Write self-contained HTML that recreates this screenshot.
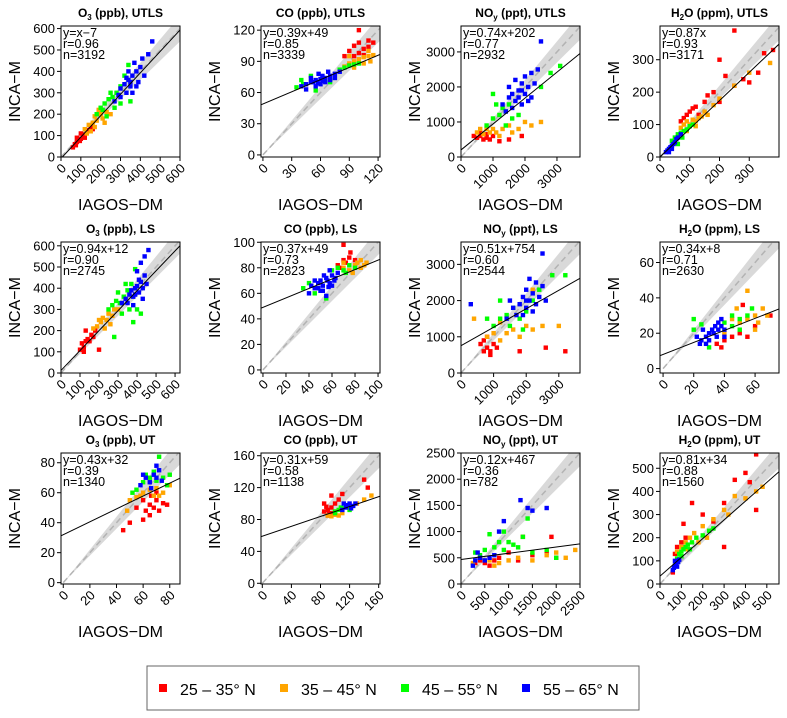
<!DOCTYPE html>
<html><head><meta charset="utf-8">
<style>
html,body{margin:0;padding:0;background:#fff;}
svg{display:block;font-family:"Liberation Sans",sans-serif;}
</style></head>
<body>
<svg id="fig" width="787" height="718" viewBox="0 0 787 718">
<g id="legend">
<rect x="147" y="666" width="492" height="44" fill="#fff" stroke="#666" stroke-width="1"/>
<g><rect x="159" y="684" width="8" height="8" fill="#ff0000"/><text x="180" y="695" font-size="16">25 – 35° N</text></g>
<g><rect x="280" y="684" width="8" height="8" fill="#ffa500"/><text x="301" y="695" font-size="16">35 – 45° N</text></g>
<g><rect x="401" y="684" width="8" height="8" fill="#00ff00"/><text x="422" y="695" font-size="16">45 – 55° N</text></g>
<g><rect x="522" y="684" width="8" height="8" fill="#0000ff"/><text x="543" y="695" font-size="16">55 – 65° N</text></g>
</g>
</svg>
<script>
// ---- data ----
const panelTitles = [["O","3","(ppb), UTLS"],["CO","","(ppb), UTLS"],["NO","y","(ppt), UTLS"],["H","2","O (ppm), UTLS"],
 ["O","3","(ppb), LS"],["CO","","(ppb), LS"],["NO","y","(ppt), LS"],["H","2","O (ppm), LS"],
 ["O","3","(ppb), UT"],["CO","","(ppb), UT"],["NO","y","(ppt), UT"],["H","2","O (ppm), UT"]];
const xLims = [[0,600],[-2,122],[0,3720],[0,400],[0,626],[-1.7,101.7],[0,3650],[-2,75.6],[-1.7,87.7],[-1.8,161.8],[0,2500],[0,557]];
const yLims = [[0,612],[-2,124],[0,3740],[0,404],[0,618],[-2.4,100.2],[0,3618],[-2.5,71.6],[-0.9,86.5],[-0.9,163.4],[0,2500],[0,566]];
const xTicks = [[0,100,200,300,400,500,600],[0,30,60,90,120],[0,1000,2000,3000],[0,100,200,300],
 [0,100,200,300,400,500,600],[0,20,40,60,80,100],[0,1000,2000,3000],[0,20,40,60],
 [0,20,40,60,80],[0,40,80,120,160],[0,500,1000,1500,2000,2500],[0,100,200,300,400,500]];
const yTicks = [[0,100,200,300,400,500,600],[0,30,60,90,120],[0,1000,2000,3000],[0,100,200,300],
 [0,100,200,300,400,500,600],[0,20,40,60,80,100],[0,1000,2000,3000],[0,20,40,60],
 [0,20,40,60,80],[0,40,80,120,160],[0,500,1000,1500,2000,2500],[0,100,200,300,400,500]];
const slopes = [1,0.39,0.74,0.87,0.94,0.37,0.51,0.34,0.43,0.31,0.12,0.81];
const intercepts = [-7,49,202,0,12,49,754,8,32,59,467,34];
const statLines = [["y=x−7","r=0.96","n=3192"],["y=0.39x+49","r=0.85","n=3339"],["y=0.74x+202","r=0.77","n=2932"],["y=0.87x","r=0.93","n=3171"],
 ["y=0.94x+12","r=0.90","n=2745"],["y=0.37x+49","r=0.73","n=2823"],["y=0.51x+754","r=0.60","n=2544"],["y=0.34x+8","r=0.71","n=2630"],
 ["y=0.43x+32","r=0.39","n=1340"],["y=0.31x+59","r=0.58","n=1138"],["y=0.12x+467","r=0.36","n=782"],["y=0.81x+34","r=0.88","n=1560"]];
const seriesColors = ["#ff0000","#ffa500","#00ff00","#0000ff"];
const seriesNames = ["lat-25-35","lat-35-45","lat-45-55","lat-55-65"];
// points per panel: [red, orange, green, blue]
const pts1 = [
 [[60,45],[70,60],[80,70],[90,80],[100,85],[110,100],[120,105],[130,120],[140,125],[80,90],[100,110],[120,90],[150,140],[160,130],[75,55],[95,75]],
 [[120,130],[140,150],[160,160],[170,190],[180,170],[200,200],[190,220],[210,180],[230,210],[150,120],[220,160],[170,140],[250,200],[130,110]],
 [[180,200],[200,230],[220,250],[240,270],[260,280],[280,300],[250,300],[300,330],[320,380],[230,190],[300,250],[340,430],[350,260],[270,230],[210,220]],
 [[270,260],[290,290],[300,320],[320,340],[340,360],[350,330],[360,380],[380,400],[400,420],[330,300],[370,440],[390,350],[410,460],[420,380],[440,480],[460,540],[360,300],[300,280],[340,400],[380,330],[350,350],[330,370]]];
const pts2 = [
 [[90,100],[95,105],[100,108],[105,102],[110,110],[100,98],[95,95],[110,104],[85,95],[100,120],[115,108],[105,96]],
 [[85,85],[90,88],[95,90],[100,92],[105,94],[110,95],[115,96],[95,84],[105,88],[110,100],[90,95],[112,90]],
 [[35,65],[40,72],[50,76],[80,82],[85,84],[90,86],[95,87],[100,88],[70,70],[55,62],[42,68]],
 [[40,66],[45,68],[50,70],[55,72],[60,73],[65,74],[70,76],[75,78],[80,80],[55,66],[60,68],[65,70],[50,74],[58,78],[70,72],[45,63],[62,76],[52,70],[68,80],[75,74],[62,71],[57,69]]];
const pts3 = [
 [[400,600],[500,550],[600,600],[700,500],[800,550],[900,500],[1000,600],[1200,450],[1500,500],[1900,600],[600,700],[800,650]],
 [[500,700],[700,650],[900,700],[1000,800],[1100,700],[1300,800],[1500,900],[1800,800],[2000,1000],[2500,1000],[800,800],[600,800],[1200,600],[1600,700],[2200,900]],
 [[800,900],[1000,1100],[1200,1200],[1300,1400],[1400,1300],[1500,1500],[1600,1100],[1100,1500],[1000,1800],[2500,2000],[2800,2400],[3100,2600],[1800,1200],[1400,900]],
 [[1300,1500],[1500,1700],[1600,1800],[1700,1600],[1800,1900],[1900,2100],[2000,1800],[2100,2000],[2200,1700],[2300,2100],[1500,2000],[1700,2200],[2000,2300],[2400,2500],[1900,1500],[1600,1400],[2200,2400],[2500,3300],[1800,1700],[1400,1300],[1900,1900],[2100,1600]]];
const pts4 = [
 [[70,110],[80,120],[90,130],[100,140],[110,150],[120,155],[130,130],[150,170],[180,200],[200,170],[220,250],[250,220],[280,240],[300,230],[330,260],[350,320],[380,330],[250,390],[200,300],[160,190]],
 [[70,90],[80,100],[90,110],[100,100],[110,115],[120,110],[130,120],[140,125],[150,140],[160,130],[180,160],[200,180],[250,220],[300,260],[370,290],[90,80],[120,95]],
 [[40,50],[50,60],[60,70],[70,75],[80,80],[90,85],[100,95],[60,40],[75,60],[110,100]],
 [[20,15],[25,20],[30,25],[35,30],[40,35],[45,40],[50,45],[55,55],[30,15],[40,25],[60,60],[70,70]]];
const pts5 = [
 [[100,110],[110,140],[120,120],[130,150],[140,160],[150,150],[160,180],[170,170],[180,200],[130,200],[200,110],[120,100]],
 [[170,210],[190,220],[210,240],[220,260],[240,250],[250,280],[270,270],[280,300],[230,210],[260,230],[300,300],[200,250]],
 [[250,300],[270,320],[290,340],[310,330],[330,360],[350,390],[340,420],[370,420],[320,280],[360,300],[400,300],[420,280],[380,240],[300,380],[390,490],[280,170]],
 [[320,330],[340,350],[360,370],[370,390],[380,360],[390,400],[400,410],[410,380],[420,430],[430,400],[440,460],[450,420],[400,480],[420,520],[440,550],[460,580],[380,320],[430,350],[350,330],[410,440],[390,370]]];
const pts6 = [
 [[65,82],[70,86],[75,88],[72,84],[80,86],[68,80],[76,92],[70,98]],
 [[70,80],[75,78],[80,82],[82,84],[85,80],[88,82],[90,84],[78,76],[85,86],[70,84]],
 [[35,64],[40,68],[60,78],[65,80],[70,78],[72,76],[75,82],[80,80],[45,60],[55,56]],
 [[40,60],[45,64],[48,68],[50,70],[52,66],[55,72],[58,68],[60,74],[62,70],[65,76],[50,62],[55,58],[45,70],[60,66],[53,74],[58,78],[48,64],[63,72],[42,66],[56,70],[52,62],[57,65]]];
const pts7 = [
 [[600,800],[700,900],[800,700],[900,600],[1000,800],[800,1000],[700,600],[900,500],[1100,700],[2600,700],[3200,600],[1800,600]],
 [[800,1000],[1000,1100],[1200,900],[1400,1100],[1600,1200],[1800,1000],[2000,1300],[2200,1200],[2500,1300],[3000,1300],[400,1500],[1200,1400],[2200,2300]],
 [[1000,1300],[1200,1500],[1400,1600],[1600,1800],[1800,1500],[2000,1700],[2200,2000],[2400,2300],[2800,2700],[3200,2700],[1200,2000],[1500,1300],[1900,1200],[800,1500]],
 [[1600,1800],[1800,1900],[1900,2100],[2000,1800],[2100,2000],[2200,2200],[2300,1900],[2400,2100],[2500,2400],[2200,1700],[1700,1600],[2000,2300],[2300,2500],[1500,2000],[2600,2000],[1900,1600],[2100,2600],[2500,3300],[300,1900],[1400,1500],[2000,2000]]];
const pts8 = [
 [[35,14],[40,16],[45,18],[50,20],[55,18],[38,12],[60,24],[70,30],[52,36]],
 [[40,20],[45,28],[50,26],[55,28],[60,30],[62,26],[65,34],[68,30],[55,44],[60,22],[48,34]],
 [[20,22],[25,25],[40,26],[45,24],[50,28],[55,30],[58,34],[45,30],[20,28],[30,12],[50,22]],
 [[22,18],[25,16],[28,18],[30,20],[32,22],[34,24],[36,26],[38,24],[30,16],[35,18],[40,22],[26,22],[38,28],[33,20],[28,14],[24,14],[36,22],[40,18]]];
const pts9 = [
 [[55,50],[60,55],[62,48],[65,52],[68,50],[70,55],[72,48],[75,53],[65,45],[60,42],[50,40],[45,35],[70,60],[78,52],[66,58]],
 [[50,55],[55,57],[60,60],[65,62],[70,63],[75,60],[80,65],[58,58],[68,58],[48,48],[72,58]],
 [[55,62],[60,67],[65,70],[70,68],[75,70],[80,72],[62,72],[68,74],[78,65],[72,84],[52,60]],
 [[58,65],[62,70],[65,67],[68,72],[70,70],[72,75],[60,72],[66,63],[74,68],[70,78]]];
const pts10 = [
 [[85,90],[90,92],[88,96],[92,88],[95,95],[100,100],[95,110],[105,105],[110,112],[90,85],[140,130],[145,120],[98,88],[85,100]],
 [[90,85],[95,84],[100,86],[105,85],[110,88],[130,100],[140,105],[150,110],[100,90]],
 [[100,90],[105,92],[110,94],[115,96],[100,88],[108,95],[120,92]],
 [[110,92],[115,95],[118,98],[120,100],[122,94],[125,97],[112,100],[128,100]]];
const pts11 = [
 [[300,400],[400,450],[500,400],[600,350],[700,450],[800,500],[1000,600],[1200,450],[1500,550],[1800,600],[2000,500],[1900,900],[1300,900],[400,500]],
 [[250,400],[400,500],[600,450],[800,400],[1000,450],[1200,500],[1500,450],[1800,550],[2000,600],[2200,500],[2400,650],[700,350]],
 [[300,600],[500,650],[700,700],[900,650],[1000,800],[1200,700],[1500,600],[1800,650],[2000,500],[600,950],[900,1000],[1300,900],[1400,1250],[1100,750],[400,550],[800,800]],
 [[250,350],[300,450],[400,500],[500,450],[600,500],[700,550],[800,1000],[1250,1600],[1400,1450],[1500,1400],[1800,1450],[900,1200],[350,600]]];
const pts12 = [
 [[70,130],[80,160],[100,180],[120,200],[110,260],[150,350],[200,300],[250,270],[300,350],[350,450],[420,440],[450,320],[400,480],[450,560],[300,160],[60,50]],
 [[80,140],[100,160],[120,180],[140,200],[160,220],[200,250],[250,280],[300,320],[350,380],[400,370],[450,400],[480,420],[130,150],[180,180],[220,200],[320,300]],
 [[80,110],[90,130],[100,140],[110,150],[120,160],[130,170],[150,180],[170,200],[200,210],[230,230],[250,240],[100,120],[140,150]],
 [[60,60],[70,80],[75,90],[80,100],[85,95],[90,105],[65,70],[70,100],[80,75]]];
const allPoints = [pts1,pts2,pts3,pts4,pts5,pts6,pts7,pts8,pts9,pts10,pts11,pts12];

// ---- layout ----
const colLeft = [61,261,461,660];
const rowTop = [26,242,453];
const boxW = 119, boxH = 131;
const NS = "http://www.w3.org/2000/svg";
const svg = document.getElementById('fig');
function mk(tag, attrs, parent){ const e=document.createElementNS(NS,tag); for(const k in attrs) e.setAttribute(k,attrs[k]); parent.appendChild(e); return e; }

for(let p=0;p<12;p++){
  const L = colLeft[p%4], T = rowTop[Math.floor(p/4)], R = L+boxW, B = T+boxH;
  const [x0,x1] = xLims[p], [y0,y1] = yLims[p];
  const sx = v => L + (v-x0)/(x1-x0)*boxW;
  const sy = v => B - (v-y0)/(y1-y0)*boxH;
  const g = mk('g',{},svg);
  
  
  const cp = mk('clipPath',{id:'clip'+p},g);
  mk('rect',{x:L,y:T,width:boxW,height:boxH},cp);
  const tt = mk('text',{x:(L+R)/2,y:T-9,'text-anchor':'middle','font-size':12,'font-weight':'bold'},g);
  
  
  const t = panelTitles[p];
  tt.appendChild(document.createTextNode(t[0]));
  if(t[1]){ const s=mk('tspan',{'font-size':8,dy:3},tt); s.textContent=t[1]; const s2=mk('tspan',{dy:-3},tt); s2.textContent=(t[2].startsWith('O')?'':' ')+t[2]; }
  else { const s2=mk('tspan',{},tt); s2.textContent=' '+t[2]; }
  const pg = mk('g',{'clip-path':'url(#clip'+p+')'},g);
  const band = mk('polygon',{points:`${sx(0)},${sy(0)} ${sx(x1*1.2)},${sy(x1*1.2*1.1)} ${sx(x1*1.2)},${sy(x1*1.2*0.9)}`,fill:'#d9d9d9'},pg);
  
  
  const dl = mk('line',{x1:sx(0),y1:sy(0),x2:sx(x1*1.2),y2:sy(x1*1.2),stroke:'#b3b3b3','stroke-width':1.5,'stroke-dasharray':'6,4'},pg);
  
  
  allPoints[p].forEach((ser,si)=>{
    const sg = mk('g',{fill:seriesColors[si]},pg);
    
    
    ser.forEach(d=>{
      const c = mk('rect',{x:sx(d[0])-2.2,y:sy(d[1])-2.2,width:4.4,height:4.4},sg);
      
      
    });
  });
  const rl = mk('line',{x1:sx(x0),y1:sy(slopes[p]*x0+intercepts[p]),x2:sx(x1),y2:sy(slopes[p]*x1+intercepts[p]),stroke:'#000','stroke-width':1},pg);
  
  
  const bx = mk('rect',{x:L,y:T,width:boxW,height:boxH,fill:'none',stroke:'#000','stroke-width':1},g);
  
  
  statLines[p].forEach((s,i)=>{
    const st = mk('text',{x:L+2,y:T+11+i*11,'font-size':12.5},g);
    
    
    st.textContent = s;
  });
  yTicks[p].forEach(v=>{
    const y = sy(v);
    mk('line',{x1:L-4,y1:y,x2:L,y2:y,stroke:'#000'},g);
    const lab = mk('text',{x:L-6,y:y+4.5,'text-anchor':'end','font-size':13},g);
    
    
    lab.textContent = v;
  });
  xTicks[p].forEach(v=>{
    const x = sx(v);
    mk('line',{x1:x,y1:B,x2:x,y2:B+4,stroke:'#000'},g);
    const ax = x+6, ay = B+12;
    const lab = mk('text',{x:ax,y:ay,'text-anchor':'end','font-size':13,transform:`rotate(-45 ${ax} ${ay})`},g);
    
    
    lab.textContent = v;
  });
  const xl = mk('text',{x:(L+R)/2,y:B+53,'text-anchor':'middle','font-size':16},g);
  
  
  xl.textContent = 'IAGOS−DM';
  const yc = L-47, ym = (T+B)/2;
  const yl = mk('text',{x:yc,y:ym,'text-anchor':'middle','font-size':16,transform:`rotate(-90 ${yc} ${ym}) translate(0 6)`},g);
  
  
  yl.textContent = 'INCA−M';
}
</script>
</body></html>
